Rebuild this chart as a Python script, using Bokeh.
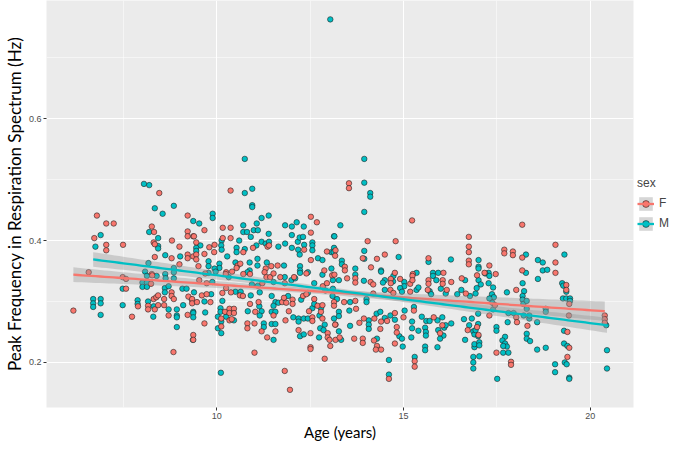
import numpy as np
from bokeh.plotting import figure
from bokeh.models import Legend, LegendItem, FixedTicker, Range1d
from bokeh.embed import file_html
from bokeh.resources import INLINE

# (age in years, peak frequency in Hz)
F_POINTS = [
(8.46,0.478),(6.79,0.441),(7.04,0.428),(7.24,0.428),(8.26,0.423),(8.32,0.414),(9.22,0.441),(9.22,0.415),(9.22,0.407),(9.37,0.407),(6.72,0.404),(8.80,0.400),(8.31,0.397),(8.34,0.394),(7.04,0.393),(7.04,0.384),(7.49,0.393),(9.00,0.390),(9.22,0.377),(9.22,0.371),(9.37,0.374),(8.34,0.373),(8.79,0.371),(9.00,0.361),(8.26,0.345),(6.57,0.348),(7.48,0.340),(7.57,0.337),(8.27,0.343),(8.24,0.329),(7.57,0.321),(8.79,0.315),(8.79,0.309),(9.33,0.303),(9.24,0.308),(6.16,0.285),(7.89,0.292),(8.16,0.293),(8.16,0.287),(8.31,0.304),(8.38,0.307),(8.34,0.287),(8.43,0.294),(8.43,0.310),(8.59,0.304),(8.59,0.294),(8.71,0.277),(8.85,0.304),(9.22,0.278),(7.73,0.275),(9.37,0.245),(9.37,0.237),(8.84,0.217),
(10.37,0.482),(9.67,0.417),(10.16,0.421),(10.37,0.421),(9.39,0.407),(10.16,0.404),(10.37,0.404),(9.45,0.397),(9.45,0.377),(9.45,0.369),(9.67,0.378),(9.80,0.389),(9.94,0.393),(9.93,0.381),(10.71,0.381),(10.97,0.388),(11.36,0.390),(11.40,0.392),(12.52,0.439),(12.68,0.430),(12.52,0.413),(12.34,0.385),(12.95,0.382),(9.51,0.358),(10.56,0.359),(10.63,0.362),(10.53,0.355),(11.46,0.358),(11.31,0.354),(11.63,0.359),(12.52,0.368),(12.88,0.351),(10.25,0.348),(9.34,0.304),(9.34,0.297),(9.47,0.299),(9.67,0.264),(9.60,0.310),(9.73,0.312),(9.83,0.299),(10.15,0.314),(10.25,0.322),(10.22,0.283),(10.12,0.272),(10.12,0.259),(10.34,0.288),(10.34,0.281),(10.46,0.288),(10.46,0.281),(10.34,0.269),(10.40,0.271),(10.38,0.315),(10.62,0.310),(10.70,0.309),(10.89,0.296),(11.12,0.299),(11.03,0.283),(10.82,0.264),(10.82,0.256),(11.01,0.264),(11.20,0.251),(11.35,0.241),(11.57,0.251),(11.52,0.277),(11.75,0.299),(11.80,0.306),(11.86,0.298),(12.03,0.303),(12.03,0.296),(11.93,0.284),(11.84,0.269),(12.19,0.253),(12.51,0.248),(12.51,0.225),(12.51,0.222),(12.56,0.274),(12.56,0.268),(12.47,0.284),(12.31,0.309),(12.40,0.312),(12.61,0.304),(12.70,0.293),(12.79,0.283),(12.83,0.294),(12.83,0.272),(12.97,0.248),(12.97,0.241),(13.02,0.237),(13.04,0.227),(12.89,0.206),(13.14,0.299),(13.14,0.293),(13.18,0.262),(13.09,0.343),(11.01,0.216),(11.82,0.186),(11.96,0.155),(9.69,0.346),(9.53,0.335),(9.73,0.330),(10.24,0.345),(10.41,0.349),(10.71,0.345),(10.89,0.345),(11.28,0.348),(11.33,0.340),(11.43,0.340),(11.52,0.346),(11.70,0.340),(12.07,0.340),(12.40,0.346),(11.22,0.330),(11.82,0.330),(12.84,0.325),(12.95,0.330),
(13.54,0.494),(13.54,0.486),(15.23,0.433),(14.04,0.399),(14.79,0.399),(16.75,0.406),(16.75,0.390),(16.75,0.381),(13.18,0.384),(13.17,0.375),(13.91,0.371),(14.29,0.370),(14.50,0.377),(13.43,0.357),(13.43,0.351),(14.13,0.356),(15.67,0.371),(16.75,0.367),(16.75,0.361),(14.77,0.347),(15.25,0.345),(16.07,0.347),
(13.15,0.344),(13.49,0.338),(13.71,0.338),(13.71,0.331),(14.12,0.332),(14.19,0.328),(14.66,0.337),(14.66,0.330),(14.91,0.337),(15.18,0.329),(15.24,0.342),(15.24,0.335),(15.67,0.335),(15.67,0.329),(16.05,0.335),(16.05,0.329),(16.28,0.332),(16.56,0.338),(16.97,0.343),(13.41,0.299),(13.71,0.301),(14.19,0.313),(14.65,0.319),(14.73,0.314),(15.18,0.316),(15.65,0.319),(16.16,0.319),(16.67,0.313),(13.73,0.288),(13.17,0.262),(13.94,0.272),(13.82,0.265),(14.22,0.272),(14.40,0.267),(14.56,0.268),(14.77,0.281),(15.00,0.274),(15.28,0.285),(14.38,0.255),(14.82,0.258),(14.82,0.249),(14.77,0.231),(15.81,0.274),(16.04,0.261),(15.98,0.248),(16.72,0.253),(16.97,0.258),(17.01,0.245),(13.68,0.239),(13.91,0.239),(13.91,0.232),(14.21,0.236),(14.29,0.227),(14.26,0.221),(14.40,0.221),(15.30,0.202),(15.30,0.193),(14.61,0.173),(13.18,0.237),(13.29,0.241),
(18.18,0.426),(19.07,0.393),(17.70,0.385),(17.70,0.379),(17.93,0.382),(17.93,0.376),(18.18,0.372),(17.30,0.359),(19.07,0.364),(18.18,0.351),(19.07,0.347),(17.17,0.347),(17.47,0.345),
(18.02,0.319),(19.36,0.327),(19.36,0.319),(19.44,0.296),(17.45,0.294),(17.30,0.277),(18.02,0.274),(18.04,0.266),(18.32,0.260),(19.43,0.277),(20.39,0.277),(20.39,0.271),(20.39,0.265),(17.49,0.216),(19.39,0.250),(19.44,0.224),(19.39,0.209),(17.88,0.201),(17.88,0.196),
]

M_POINTS = [
(8.05,0.493),(8.19,0.491),(8.34,0.453),(8.85,0.457),(8.55,0.444),(8.19,0.414),(9.37,0.432),(6.89,0.409),(8.43,0.404),(8.43,0.391),(8.43,0.387),(6.75,0.390),(8.62,0.376),(9.02,0.374),(8.17,0.363),(8.85,0.355),(8.85,0.348),(8.08,0.349),(8.62,0.345),(8.13,0.342),(8.39,0.342),(8.63,0.338),(8.85,0.338),(8.01,0.331),(8.01,0.324),(8.13,0.331),(8.13,0.324),(7.48,0.321),(8.61,0.322),(8.61,0.315),(8.71,0.325),(9.08,0.321),(9.19,0.321),(6.69,0.304),(6.69,0.297),(6.69,0.291),(6.89,0.304),(6.89,0.297),(6.89,0.278),(7.48,0.294),(7.88,0.302),(7.88,0.296),(8.16,0.300),(8.31,0.292),(8.71,0.287),(8.93,0.287),(8.93,0.277),(8.93,0.274),(9.10,0.294),(9.37,0.283),(8.30,0.275),(8.93,0.258),
(10.75,0.534),(10.75,0.478),(10.95,0.485),(10.95,0.458),(10.95,0.455),(9.89,0.444),(9.89,0.437),(9.53,0.428),(10.71,0.425),(10.71,0.414),(10.81,0.414),(11.07,0.428),(10.99,0.417),(11.10,0.417),(11.20,0.437),(11.39,0.441),(11.39,0.411),(10.91,0.406),(10.13,0.400),(10.60,0.400),(9.56,0.392),(9.45,0.388),(9.45,0.383),(10.12,0.392),(10.13,0.385),(10.28,0.374),(10.53,0.388),(10.53,0.381),(10.75,0.386),(11.06,0.392),(11.20,0.398),(11.31,0.395),(11.40,0.398),(11.65,0.390),(11.83,0.395),(12.01,0.388),(12.17,0.398),(12.22,0.405),(12.31,0.406),(11.83,0.425),(12.01,0.423),(12.14,0.430),(12.33,0.423),(12.01,0.409),(12.34,0.393),(12.56,0.397),(12.56,0.392),(12.56,0.384),(12.18,0.385),(12.22,0.377),(13.14,0.407),(13.14,0.388),(13.07,0.381),(9.78,0.366),(9.78,0.358),(10.07,0.362),(10.07,0.355),(10.50,0.364),(10.88,0.364),(10.88,0.351),(11.09,0.370),(11.09,0.359),(11.34,0.364),(11.80,0.359),(12.23,0.358),(12.23,0.351),(12.71,0.371),(12.83,0.368),(13.07,0.354),(9.94,0.354),(12.44,0.348),(9.39,0.315),(9.37,0.281),(9.37,0.274),(9.69,0.282),(9.36,0.237),(9.67,0.300),(9.85,0.312),(10.15,0.301),(10.10,0.289),(10.10,0.283),(10.03,0.275),(10.12,0.267),(10.03,0.256),(10.12,0.248),(10.46,0.269),(10.25,0.275),(10.50,0.316),(10.64,0.316),(10.91,0.310),(10.83,0.284),(11.14,0.292),(11.20,0.284),(11.15,0.277),(11.26,0.264),(11.26,0.258),(11.52,0.237),(11.15,0.315),(11.47,0.309),(11.57,0.299),(11.52,0.293),(11.47,0.283),(11.57,0.283),(11.47,0.263),(11.57,0.263),(11.65,0.298),(11.91,0.309),(12.05,0.274),(12.19,0.272),(12.19,0.267),(12.23,0.243),(12.33,0.246),(12.33,0.272),(12.44,0.272),(12.56,0.289),(12.26,0.303),(12.44,0.314),(12.61,0.296),(12.79,0.289),(12.75,0.277),(12.89,0.262),(12.77,0.256),(12.86,0.253),(12.74,0.241),(13.14,0.272),(13.11,0.335),(12.83,0.344),(10.11,0.183),(9.78,0.347),(9.97,0.349),(9.88,0.332),(10.32,0.340),(10.82,0.348),(11.82,0.340),(12.00,0.335),(12.23,0.347),(12.10,0.338),(10.94,0.328),(11.10,0.326),(11.52,0.332),(12.61,0.330),(12.91,0.318),(13.11,0.321),
(13.04,0.763),(13.95,0.534),(13.95,0.495),(14.11,0.478),(14.11,0.472),(13.95,0.447),(13.31,0.425),(13.15,0.407),(13.13,0.381),(13.95,0.383),(13.95,0.370),(14.87,0.373),(13.35,0.367),(13.35,0.361),(13.71,0.354),(14.40,0.351),(15.67,0.365),(16.27,0.369),(17.01,0.368),(17.01,0.357),(17.01,0.354),(15.35,0.347),(15.79,0.347),(15.93,0.347),
(13.27,0.335),(13.71,0.344),(13.94,0.334),(14.40,0.349),(14.50,0.335),(14.45,0.331),(14.73,0.342),(14.72,0.333),(15.02,0.332),(15.02,0.325),(15.79,0.342),(15.88,0.335),(16.65,0.335),(17.01,0.335),(13.10,0.309),(13.22,0.304),(13.57,0.299),(14.01,0.304),(14.01,0.299),(14.50,0.319),(14.91,0.322),(14.96,0.316),(15.35,0.319),(15.40,0.323),(15.70,0.317),(15.74,0.312),(16.00,0.321),(16.13,0.313),(16.44,0.312),(16.55,0.319),(16.78,0.309),(16.93,0.313),(13.27,0.283),(13.27,0.276),(13.55,0.285),(13.27,0.251),(14.07,0.269),(14.07,0.262),(14.07,0.255),(14.28,0.280),(14.38,0.283),(14.50,0.273),(14.65,0.277),(14.77,0.270),(15.03,0.285),(15.28,0.291),(14.89,0.243),(14.96,0.239),(14.98,0.226),(15.21,0.241),(15.23,0.267),(15.23,0.256),(15.40,0.252),(15.49,0.275),(15.61,0.268),(15.58,0.257),(15.60,0.250),(15.60,0.244),(15.70,0.268),(15.91,0.269),(16.04,0.274),(16.09,0.257),(16.13,0.261),(15.93,0.253),(16.07,0.244),(15.98,0.239),(15.91,0.225),(16.28,0.264),(15.58,0.226),(15.58,0.220),(16.62,0.271),(16.76,0.261),(16.65,0.237),(16.83,0.272),(16.87,0.251),(16.90,0.246),(16.90,0.225),(16.90,0.230),(13.33,0.237),(14.29,0.239),(14.61,0.204),(15.30,0.209),(14.61,0.180),(16.87,0.209),(16.87,0.200),(16.87,0.190),(13.57,0.260),
(19.31,0.377),(18.28,0.377),(18.60,0.368),(18.73,0.364),(18.28,0.347),(18.73,0.351),(18.85,0.352),(17.28,0.347),
(17.19,0.346),(17.30,0.342),(17.07,0.328),(16.96,0.322),(17.28,0.330),(17.40,0.323),(18.60,0.337),(18.19,0.330),(18.23,0.317),(17.77,0.315),(18.19,0.309),(18.19,0.303),(18.21,0.296),(18.30,0.301),(18.30,0.288),(19.25,0.330),(19.28,0.326),(19.36,0.316),(19.27,0.305),(19.36,0.305),(19.46,0.305),(19.46,0.301),(17.37,0.312),(17.42,0.307),(17.30,0.305),(17.38,0.298),(17.40,0.287),(17.81,0.281),(17.95,0.281),(17.79,0.266),(18.22,0.277),(18.37,0.272),(18.37,0.277),(18.58,0.266),(18.81,0.288),(18.81,0.283),(20.43,0.261),(17.00,0.280),(17.00,0.263),(16.93,0.253),(17.00,0.243),(17.03,0.233),(17.03,0.228),(17.03,0.210),(17.49,0.258),(17.49,0.252),(17.72,0.242),(17.65,0.236),(17.72,0.231),(17.77,0.226),(17.67,0.227),(17.67,0.216),(17.81,0.216),(18.30,0.247),(18.30,0.239),(18.39,0.235),(18.58,0.221),(18.81,0.224),(19.30,0.252),(19.30,0.231),(19.39,0.227),(19.32,0.200),(19.37,0.197),(19.06,0.197),(19.06,0.184),(17.51,0.173),(19.44,0.175),(19.44,0.173),(20.45,0.220),(20.45,0.190),
]

f_age = [a for a, h in F_POINTS]
f_hz = [h for a, h in F_POINTS]
m_age = [a for a, h in M_POINTS]
m_hz = [h for a, h in M_POINTS]

# linear fits (lm) with 95% confidence band
f_fit_age = [6.16, 20.39]
f_fit_hz = [0.344, 0.284]
f_ci_age = [6.16, 12.2, 20.39]
f_ci_half = [0.012, 0.004, 0.016]
m_fit_age = [6.69, 20.45]
m_fit_hz = [0.369, 0.261]
m_ci_age = [6.69, 13.5, 20.45]
m_ci_half = [0.012, 0.004, 0.0125]

x_ticks = [10, 15, 20]
x_minor = [7.5, 12.5, 17.5]
y_ticks = [0.2, 0.4, 0.6]
y_minor = [0.3, 0.5, 0.7]

F_COL = "#F8766D"
M_COL = "#00BFC4"


def fit_band(fit_age, fit_hz, ci_age, ci_half):
    xs = np.linspace(fit_age[0], fit_age[1], 120)
    slope = (fit_hz[1] - fit_hz[0]) / (fit_age[1] - fit_age[0])
    mid = fit_hz[0] + slope * (xs - fit_age[0])
    x0, xc, x1 = ci_age
    h0, hc, h1 = ci_half
    kl = np.sqrt(h0 ** 2 - hc ** 2) / (xc - x0)
    kr = np.sqrt(h1 ** 2 - hc ** 2) / (x1 - xc)
    k = np.where(xs < xc, kl, kr)
    half = np.sqrt(hc ** 2 + (k * (xs - xc)) ** 2)
    return xs, mid, mid - half, mid + half


p = figure(frame_width=587, frame_height=407,
           x_range=Range1d(5.44, 21.16), y_range=Range1d(0.126, 0.794),
           output_backend="svg", toolbar_location=None,
           min_border_top=0, min_border_left=0, min_border_right=0, min_border_bottom=0)
p.background_fill_color = "#EBEBEB"
p.border_fill_color = "white"
p.outline_line_color = None

p.xaxis.ticker = FixedTicker(ticks=x_ticks, minor_ticks=x_minor)
p.yaxis.ticker = FixedTicker(ticks=y_ticks, minor_ticks=y_minor)
for g in (p.xgrid, p.ygrid):
    g.grid_line_color = "white"
    g.grid_line_width = 1.1
    g.minor_grid_line_color = "white"
    g.minor_grid_line_width = 0.5

for ax in (p.xaxis, p.yaxis):
    ax.axis_line_color = None
    ax.major_tick_line_color = "#333333"
    ax.major_tick_in = 0
    ax.major_tick_out = 3
    ax.minor_tick_line_color = None
    ax.major_label_text_font_size = "9px"
    ax.major_label_text_color = "#4D4D4D"
    ax.major_label_text_font = "Liberation Sans"
    ax.major_label_standoff = 1
    ax.axis_label_text_font = "Lato"
    ax.axis_label_text_font_style = "normal"
    ax.axis_label_text_color = "black"
    ax.axis_label_standoff = 1

p.xaxis.axis_label = "Age (years)"
p.xaxis.axis_label_text_font_size = "15px"
p.yaxis.axis_label = "Peak Frequency in Respiration Spectrum (Hz)"
p.yaxis.axis_label_text_font_size = "17px"

m_pts = p.scatter(m_age, m_hz, size=5.5, marker="circle", fill_color=M_COL,
                  line_color="#222222", line_width=0.6)
f_pts = p.scatter(f_age, f_hz, size=5.5, marker="circle", fill_color=F_COL,
                  line_color="#222222", line_width=0.6)

renders = {}
for key, (fa, fh, ca, ch, col) in {
        "F": (f_fit_age, f_fit_hz, f_ci_age, f_ci_half, F_COL),
        "M": (m_fit_age, m_fit_hz, m_ci_age, m_ci_half, M_COL)}.items():
    xs, mid, lo, hi = fit_band(fa, fh, ca, ch)
    band = p.varea(x=xs, y1=lo, y2=hi, fill_color="#999999", fill_alpha=0.4)
    line = p.line(xs, mid, line_color=col, line_width=2.3)
    renders[key] = (band, line)

legend = Legend(items=[
    LegendItem(label="F", renderers=[renders["F"][0], f_pts, renders["F"][1]]),
    LegendItem(label="M", renderers=[renders["M"][0], m_pts, renders["M"][1]]),
], title="sex")
legend.location = "center_left"
legend.border_line_color = None
legend.background_fill_color = "white"
legend.glyph_width = 17
legend.glyph_height = 17
legend.label_text_font_size = "12px"
legend.label_text_font = "Liberation Sans"
legend.title_text_font_size = "12px"
legend.title_text_font = "Liberation Sans"
legend.title_text_font_style = "normal"
legend.label_standoff = 5
legend.spacing = 3
legend.padding = 4
legend.margin = 4
p.add_layout(legend, "right")

open("out.html", "w").write(file_html(p, INLINE))
